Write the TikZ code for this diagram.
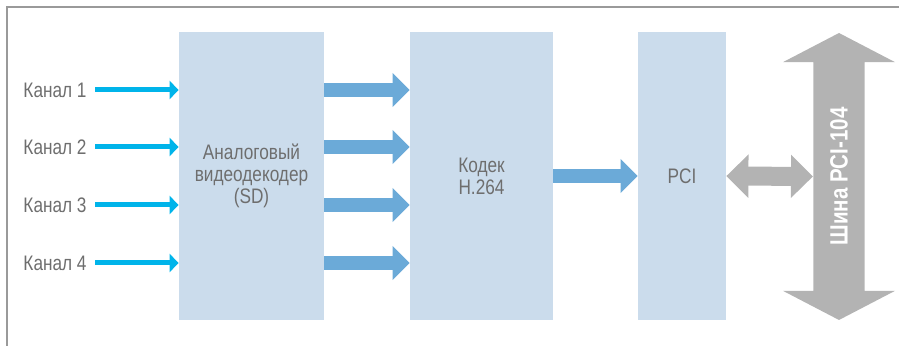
\documentclass[tikz,border=0pt]{standalone}
\usepackage{fontspec}
\setmainfont{Liberation Sans}[FakeStretch=0.82]
\usetikzlibrary{arrows.meta, shapes.arrows}

\definecolor{boxblue}{HTML}{CBDCEC}
\definecolor{arrowblue}{HTML}{6BAAD8}
\definecolor{cyanline}{HTML}{00B4EA}
\definecolor{busgray}{HTML}{B3B3B3}
\definecolor{txtgray}{HTML}{6E6E6E}
\definecolor{framegray}{HTML}{9A9A9A}

\begin{document}
\begin{tikzpicture}[
    x=0.5pt, y=-0.5pt,
    block/.style={rectangle, fill=boxblue, minimum height=144pt, inner sep=0pt, align=center, text=txtgray, font=\fontsize{10.5}{11}\selectfont},
    chan/.style={anchor=east, inner sep=4pt, text=txtgray, font=\fontsize{10.5}{11}\selectfont},
    thinarrow/.style={-{Triangle[length=4.5pt, width=9pt]}, line width=2.5pt, draw=cyanline},
    fatarrow/.style={-{Triangle[length=8.5pt, width=16.5pt]}, line width=7pt, draw=arrowblue},
    grayarrow/.style={{Triangle[length=11pt, width=21pt]}-{Triangle[length=11pt, width=21pt]}, line width=9.5pt, draw=busgray},
    busarrow/.style={double arrow, fill=busgray, minimum height=143.5pt, minimum width=56pt, double arrow head extend=13.75pt, double arrow tip angle=125, inner xsep=0pt, inner ysep=7pt, text=white, font=\fontsize{12.5}{13}\selectfont\bfseries},
    frame/.style={draw=framegray, line width=0.8pt}
]
\useasboundingbox (0,0) rectangle (899,346);

% Frame
\draw[frame] (7,346) -- (7,7) -- (899,7);

% Blocks
\node[block, minimum width=72.5pt] (dec) at (251.5,176) {Аналоговый\\видеодекодер\\(SD)};
\node[block, minimum width=71.5pt] (codec) at (481.5,176) {Кодек\\H.264};
\node[block, minimum width=44pt] (pci) at (682,176) {PCI};

% Bus
\node[busarrow, rotate=90] (bus) at (839,176.5) {Шина PCI-104};

% Channels
\foreach \i/\y in {1/90, 2/147, 3/205, 4/263} {
    \node[chan] (ch\i) at (95,\y) {Канал \i};
    \draw[thinarrow] (ch\i.east) -- (ch\i.east -| dec.west);
    \draw[fatarrow] (dec.east |- ch\i.east) -- (codec.west |- ch\i.east);
}

% Codec to PCI, PCI to bus
\draw[fatarrow] (codec.east) -- (pci.west);
\draw[grayarrow] (pci.east) -- (bus.north);

\end{tikzpicture}
\end{document}
